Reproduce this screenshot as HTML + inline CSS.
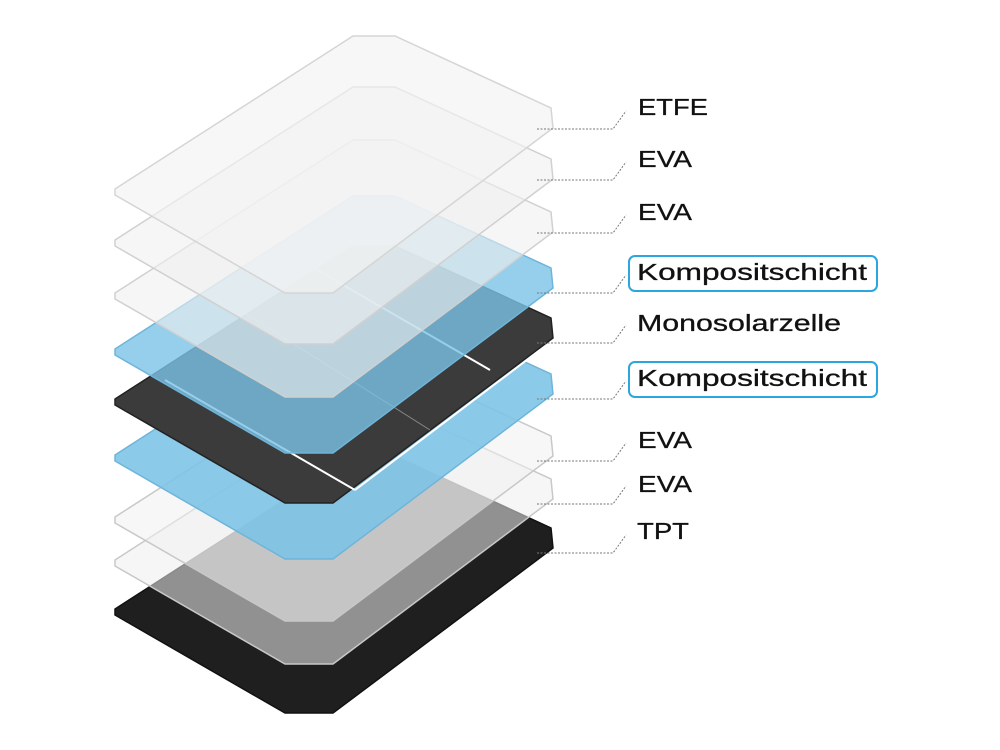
<!DOCTYPE html>
<html><head><meta charset="utf-8"><style>
html,body{margin:0;padding:0;background:#fff;width:1000px;height:750px;overflow:hidden}
svg{display:block}
.t{font-family:"Liberation Sans",sans-serif;font-size:23px;fill:#111;stroke:#111;stroke-width:0.3}
</style></head><body>
<svg width="1000" height="750" viewBox="0 0 1000 750">
<defs>
<polygon id="L" points="353,456 395,456 551,528 553,548 333,713 285,713 115,615 115,609"/>
</defs>
<g><use href="#L" fill="#1f1f1f" stroke="#111" stroke-width="1.5"/></g>
<g transform="translate(0,-49)"><use href="#L" fill="#eeeeee" fill-opacity="0.55" stroke="#c8c8c8" stroke-width="1.5"/></g>
<g transform="translate(0,-92)"><use href="#L" fill="#f0f0f0" fill-opacity="0.55" stroke="#c8c8c8" stroke-width="1.5"/></g>
<g transform="translate(0,-154)"><use href="#L" fill="#7cc3e6" fill-opacity="0.88" stroke="#6db5da" stroke-width="1.5"/></g>
<g transform="translate(0,-210)"><use href="#L" fill="#3b3b3b" stroke="#222" stroke-width="1.5"/>
<line x1="165" y1="590" x2="355" y2="700" stroke="#fff" stroke-width="2"/>
<line x1="300" y1="470" x2="490" y2="580" stroke="#fff" stroke-width="2"/>
<line x1="355" y1="700" x2="540" y2="560" stroke="#fff" stroke-width="2"/>
<line x1="240" y1="520" x2="430" y2="640" stroke="#fff" stroke-width="1" stroke-opacity=".4"/>
</g>
<g transform="translate(0,-260)"><use href="#L" fill="#7cc3e6" fill-opacity="0.8" stroke="#6db5da" stroke-width="1.5"/></g>
<g transform="translate(0,-316)"><use href="#L" fill="#f0f0f0" fill-opacity="0.6" stroke="#d0d0d0" stroke-width="1.5"/></g>
<g transform="translate(0,-369)"><use href="#L" fill="#f0f0f0" fill-opacity="0.6" stroke="#d0d0d0" stroke-width="1.5"/></g>
<g transform="translate(0,-420)"><use href="#L" fill="#f3f3f3" fill-opacity="0.65" stroke="#d5d5d5" stroke-width="1.5"/></g>

<g stroke="#777" stroke-width="1" stroke-dasharray="2,1.5" fill="none">
<polyline points="537,129 613,129 626,111"/>
<polyline points="537,180 613,180 626,162"/>
<polyline points="537,233 613,233 626,215"/>
<polyline points="537,293 613,293 626,275"/>
<polyline points="537,343 613,343 626,325"/>
<polyline points="537,399 613,399 626,381"/>
<polyline points="537,461 613,461 626,443"/>
<polyline points="537,504 613,504 626,486"/>
<polyline points="537,553 613,553 626,535"/>
</g>
<rect x="629" y="256" width="248" height="35" rx="6" fill="#fff" stroke="#2ba6de" stroke-width="2"/>
<rect x="629" y="362" width="248" height="35" rx="6" fill="#fff" stroke="#2ba6de" stroke-width="2"/>
<text class="t" x="638" y="115" textLength="70" lengthAdjust="spacingAndGlyphs">ETFE</text>
<text class="t" x="638" y="167" textLength="54" lengthAdjust="spacingAndGlyphs">EVA</text>
<text class="t" x="638" y="220" textLength="54" lengthAdjust="spacingAndGlyphs">EVA</text>
<text class="t" x="637" y="280" textLength="230" lengthAdjust="spacingAndGlyphs">Kompositschicht</text>
<text class="t" x="637" y="331" textLength="204" lengthAdjust="spacingAndGlyphs">Monosolarzelle</text>
<text class="t" x="637" y="386" textLength="230" lengthAdjust="spacingAndGlyphs">Kompositschicht</text>
<text class="t" x="638" y="448" textLength="54" lengthAdjust="spacingAndGlyphs">EVA</text>
<text class="t" x="638" y="492" textLength="54" lengthAdjust="spacingAndGlyphs">EVA</text>
<text class="t" x="637" y="539" textLength="52" lengthAdjust="spacingAndGlyphs">TPT</text>
</svg>
</body></html>
